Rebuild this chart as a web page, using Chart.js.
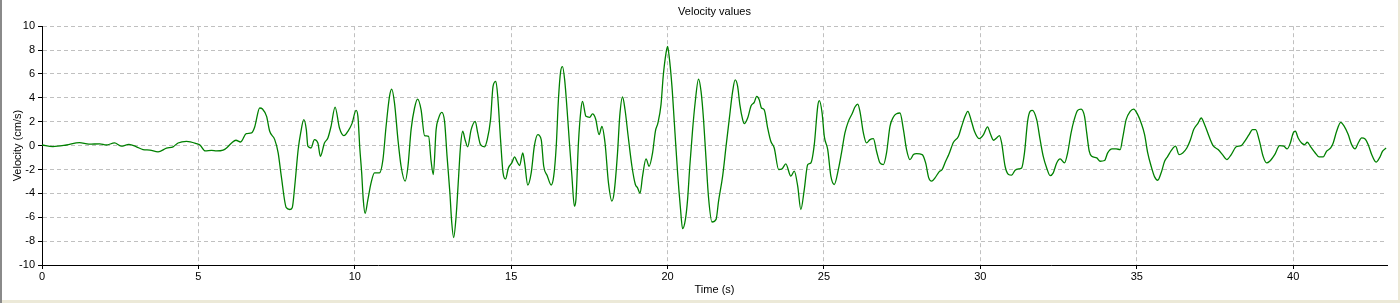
<!DOCTYPE html>
<html>
<head>
<meta charset="utf-8">
<title>Velocity values</title>
<script src="https://cdn.jsdelivr.net/npm/chart.js@4.4.1/dist/chart.umd.min.js"></script>
<style>
    html, body { margin: 0; padding: 0; background: #fff; }
    #wrap { width: 1400px; height: 303px; }
</style>
</head>
<body>
<div id="wrap"><canvas id="velocityChart" width="1400" height="303"></canvas></div>
<script>
// time (s)
const timeSec = [
    0.0, 0.35, 0.78, 1.2, 1.5, 1.85, 2.05, 2.32, 2.53, 2.78, 3.02, 3.23, 3.45, 3.71, 3.98, 4.19, 4.35, 4.62, 4.94, 5.05,
    5.22, 5.42, 5.58, 5.79, 5.9, 6.06, 6.2, 6.35, 6.53, 6.7, 6.8, 6.96, 7.05, 7.18, 7.28, 7.44, 7.55, 7.65, 7.81, 7.92,
    8.0, 8.08, 8.19, 8.27, 8.37, 8.45, 8.5, 8.6, 8.71, 8.82, 8.9, 9.03, 9.14, 9.24, 9.37, 9.51, 9.65, 9.78, 9.91, 10.04,
    10.1, 10.16, 10.22, 10.27, 10.33, 10.42, 10.52, 10.63, 10.79, 10.9, 11.0, 11.11, 11.18, 11.27, 11.38, 11.48, 11.61, 11.7, 11.8, 11.91,
    12.01, 12.12, 12.23, 12.36, 12.44, 12.51, 12.6, 12.68, 12.78, 12.87, 12.95, 13.04, 13.1, 13.16, 13.24, 13.32, 13.38, 13.45, 13.53, 13.61,
    13.72, 13.85, 13.93, 14.02, 14.15, 14.23, 14.34, 14.42, 14.51, 14.57, 14.66, 14.74, 14.82, 14.91, 15.02, 15.11, 15.18, 15.27, 15.37, 15.43,
    15.53, 15.64, 15.74, 15.85, 15.96, 16.04, 16.15, 16.28, 16.36, 16.44, 16.51, 16.58, 16.64, 16.71, 16.81, 16.86, 16.94, 17.02, 17.07, 17.15,
    17.23, 17.28, 17.39, 17.51, 17.6, 17.7, 17.81, 17.9, 18.0, 18.11, 18.22, 18.29, 18.4, 18.47, 18.56, 18.64, 18.74, 18.86, 18.97, 19.04,
    19.12, 19.2, 19.31, 19.41, 19.52, 19.61, 19.69, 19.79, 19.86, 19.95, 20.0, 20.05, 20.14, 20.22, 20.32, 20.41, 20.48, 20.57, 20.64, 20.71,
    20.8, 20.88, 20.99, 21.07, 21.15, 21.23, 21.31, 21.42, 21.55, 21.63, 21.76, 21.87, 21.97, 22.08, 22.16, 22.24, 22.31, 22.4, 22.45, 22.56,
    22.67, 22.77, 22.85, 22.93, 23.0, 23.09, 23.2, 23.3, 23.41, 23.55, 23.66, 23.78, 23.94, 24.05, 24.16, 24.26, 24.37, 24.48, 24.58, 24.69,
    24.8, 24.85, 24.94, 25.01, 25.12, 25.22, 25.33, 25.46, 25.56, 25.67, 25.78, 25.91, 25.99, 26.08, 26.15, 26.26, 26.36, 26.47, 26.58, 26.68,
    26.79, 26.9, 27.0, 27.11, 27.22, 27.32, 27.43, 27.54, 27.64, 27.75, 27.86, 27.96, 28.14, 28.25, 28.35, 28.44, 28.55, 28.68, 28.78, 28.89,
    28.99, 29.14, 29.3, 29.4, 29.51, 29.6, 29.7, 29.81, 29.96, 30.1, 30.23, 30.31, 30.42, 30.52, 30.61, 30.68, 30.79, 30.9, 31.0, 31.11,
    31.22, 31.32, 31.41, 31.51, 31.59, 31.66, 31.8, 31.91, 32.01, 32.12, 32.23, 32.33, 32.44, 32.55, 32.69, 32.79, 32.9, 33.0, 33.11, 33.22,
    33.33, 33.4, 33.48, 33.56, 33.72, 33.83, 33.97, 34.07, 34.21, 34.34, 34.47, 34.55, 34.66, 34.79, 34.9, 35.03, 35.14, 35.25, 35.35, 35.46,
    35.57, 35.67, 35.78, 35.89, 35.99, 36.1, 36.24, 36.35, 36.47, 36.6, 36.71, 36.82, 36.96, 37.06, 37.17, 37.31, 37.44, 37.6, 37.74, 37.88,
    38.02, 38.18, 38.34, 38.45, 38.59, 38.7, 38.8, 38.91, 39.04, 39.15, 39.25, 39.41, 39.57, 39.7, 39.81, 39.91, 40.0, 40.07, 40.16, 40.27,
    40.37, 40.45, 40.56, 40.69, 40.83, 40.96, 41.07, 41.2, 41.28, 41.39, 41.52, 41.62, 41.76, 41.87, 41.98, 42.08, 42.19, 42.3, 42.4, 42.51,
    42.65, 42.76, 42.86, 42.97
];

// velocity (cm/s), one value per time above
const velocity = [
    0.05, -0.08, 0.05, 0.25, 0.12, 0.15, 0.05, 0.22, -0.05, 0.1, -0.1, -0.33, -0.38, -0.53, -0.22, -0.1, 0.22, 0.36, 0.17, 0.05,
    -0.45, -0.4, -0.45, -0.38, -0.2, 0.22, 0.45, 0.3, 1.0, 1.06, 1.56, 3.15, 3.06, 2.45, 1.2, 0.5, -0.6, -2.56, -5.2, -5.35,
    -5.2, -3.4, -0.33, 1.06, 2.17, 1.34, -0.05, -0.2, 0.5, 0.22, -0.9, 0.22, 0.64, 1.6, 3.23, 1.47, 0.83, 1.2, 1.84, 2.95,
    2.45, -0.2, -2.28, -4.5, -5.68, -4.5, -3.12, -2.28, -2.28, -1.17, 1.6, 4.12, 4.73, 3.56, 0.5, -1.73, -2.98, -1.73, 1.34, 3.15,
    3.9, 3.0, 0.84, 0.78, -1.3, -2.42, 1.34, 2.3, 2.78, 2.03, -0.9, -3.95, -6.46, -7.7, -5.9, -2.56, -0.05, 1.2, 0.45, -0.1,
    1.34, 2.03, 1.06, 0.08, -0.1, 0.45, 2.17, 4.96, 5.38, 4.12, 0.5, -2.28, -2.79, -1.87, -1.45, -0.95, -1.3, -1.67, -0.61, -1.45,
    -3.3, -2.28, -0.05, 0.92, 0.5, -1.73, -2.5, -3.3, -2.56, -0.05, 3.84, 6.2, 6.62, 5.5, 2.17, 0.3, -2.5, -5.07, -4.5, 0.22,
    3.0, 3.7, 2.45, 2.37, 2.65, 2.23, 0.92, 1.6, 0.22, -3.12, -4.65, -3.95, -0.61, 2.45, 4.07, 3.0, 0.78, -1.73, -3.26, -3.54,
    -4.0, -2.56, -1.11, -1.73, -0.61, 1.2, 1.89, 3.43, 5.8, 7.74, 8.3, 7.47, 4.96, 1.75, -2.28, -5.2, -6.96, -6.18, -4.5, -1.73,
    1.34, 3.57, 5.57, 4.54, 2.17, -1.17, -4.37, -6.4, -6.18, -4.65, -2.56, -0.05, 2.17, 4.54, 5.5, 4.96, 3.43, 2.17, 1.84, 2.31,
    3.34, 3.62, 4.12, 3.84, 3.15, 3.0, 1.47, 0.36, -0.2, -2.0, -1.95, -1.53, -2.56, -2.14, -3.4, -5.35, -3.68, -1.59, -1.45, 0.08,
    3.29, 3.76, 2.73, 0.78, -0.33, -2.56, -3.26, -2.0, -0.61, 1.06, 2.03, 2.73, 3.23, 3.48, 2.87, 1.06, 0.22, 0.5, 0.58, -0.47,
    -1.45, -1.59, -0.61, 1.6, 2.4, 2.67, 2.73, 1.34, -0.33, -1.17, -0.75, -0.67, -0.75, -1.45, -2.7, -2.98, -2.7, -2.2, -2.0, -1.31,
    -0.75, 0.28, 0.78, 1.6, 2.45, 2.87, 2.17, 1.2, 0.58, 0.92, 1.56, 1.06, 0.45, 0.64, 0.84, 0.22, -1.73, -2.42, -2.48, -2.06,
    -1.95, -1.87, -0.61, 2.03, 2.87, 2.95, 2.17, 0.5, -0.9, -1.87, -2.51, -2.28, -1.45, -1.11, -1.45, -0.61, 1.06, 2.17, 2.95, 3.06,
    2.45, 1.06, -0.47, -0.9, -1.03, -1.31, -1.25, -0.61, -0.28, -0.28, -0.33, 0.64, 2.17, 2.87, 3.06, 2.59, 1.89, 0.92, -0.61, -1.73,
    -2.62, -2.9, -2.28, -1.31, -0.9, -0.42, -0.05, -0.75, -0.61, -0.2, 0.45, 1.34, 1.89, 2.31, 1.75, 0.78, 0.0, -0.33, -0.75, -1.17,
    -0.75, -0.1, 0.0, 0.36, 0.92, 1.34, 1.34, 0.5, -0.9, -1.45, -1.31, -0.75, 0.0, -0.05, -0.28, 0.22, 1.06, 1.2, 0.64, 0.22,
    0.08, 0.28, -0.1, -0.56, -0.95, -0.95, -0.47, -0.2, 0.22, 1.2, 1.95, 1.67, 0.92, 0.08, -0.28, 0.22, 0.64, 0.56, 0.08, -0.75,
    -1.39, -1.03, -0.47, -0.2
];

const xRange = [0, 43];
const yRange = [-10, 10];

const points = timeSec.map((t, i) => ({x: t, y: velocity[i]}));

const uiFont = {family: '"Liberation Sans", Arial, sans-serif', size: 11, weight: 'normal'};

// white page with the thin window frame round it
const frame = {
    id: 'frame',
    beforeDraw(chart) {
        const ctx = chart.ctx;
        ctx.save();
        ctx.fillStyle = '#ffffff';
        ctx.fillRect(0, 0, chart.width, chart.height);
        ctx.fillStyle = '#ece9d8';
        ctx.fillRect(0, 300, chart.width, 3);
        ctx.fillRect(1398, 0, 2, chart.height);
        ctx.fillStyle = '#8a8a8a';
        ctx.fillRect(0, 0, 2, chart.height);
        ctx.restore();
    }
};

new Chart(document.getElementById('velocityChart'), {
    type: 'line',
    data: {
        datasets: [{
            label: 'Velocity',
            data: points,
            borderColor: '#008000',
            borderWidth: 1.3,
            pointRadius: 0,
            cubicInterpolationMode: 'monotone',
            fill: false
        }]
    },
    options: {
        responsive: false,
        animation: false,
        layout: {padding: {left: 0, right: 13, top: 0, bottom: 0}},
        plugins: {
            legend: {display: false},
            tooltip: {enabled: false},
            title: {
                display: true,
                text: 'Velocity values',
                color: '#000',
                font: uiFont,
                fullSize: false,
                padding: {top: 5, bottom: 8}
            }
        },
        scales: {
            x: {
                type: 'linear',
                min: xRange[0],
                max: xRange[1],
                afterFit(scale) { scale.height = 38; },
                ticks: {stepSize: 5, includeBounds: false, color: '#000', font: uiFont, padding: 1, maxRotation: 0},
                grid: {color: '#c0c0c0', tickColor: '#000', tickLength: 4, tickBorderDash: []},
                border: {color: '#000', width: 1, dash: [4, 3]},
                title: {display: true, text: 'Time (s)', color: '#000', font: uiFont, padding: {top: 0, bottom: 6}}
            },
            y: {
                min: yRange[0],
                max: yRange[1],
                afterFit(scale) { scale.width = 42; },
                ticks: {stepSize: 2, color: '#000', font: uiFont, padding: 3},
                grid: {color: '#c0c0c0', tickColor: '#000', tickLength: 4, tickBorderDash: []},
                border: {color: '#000', width: 1, dash: [4, 3]},
                title: {display: true, text: 'Velocity (cm/s)', color: '#000', font: uiFont, padding: {top: 11, bottom: 0}}
            }
        }
    },
    plugins: [frame]
});
</script>
</body>
</html>
